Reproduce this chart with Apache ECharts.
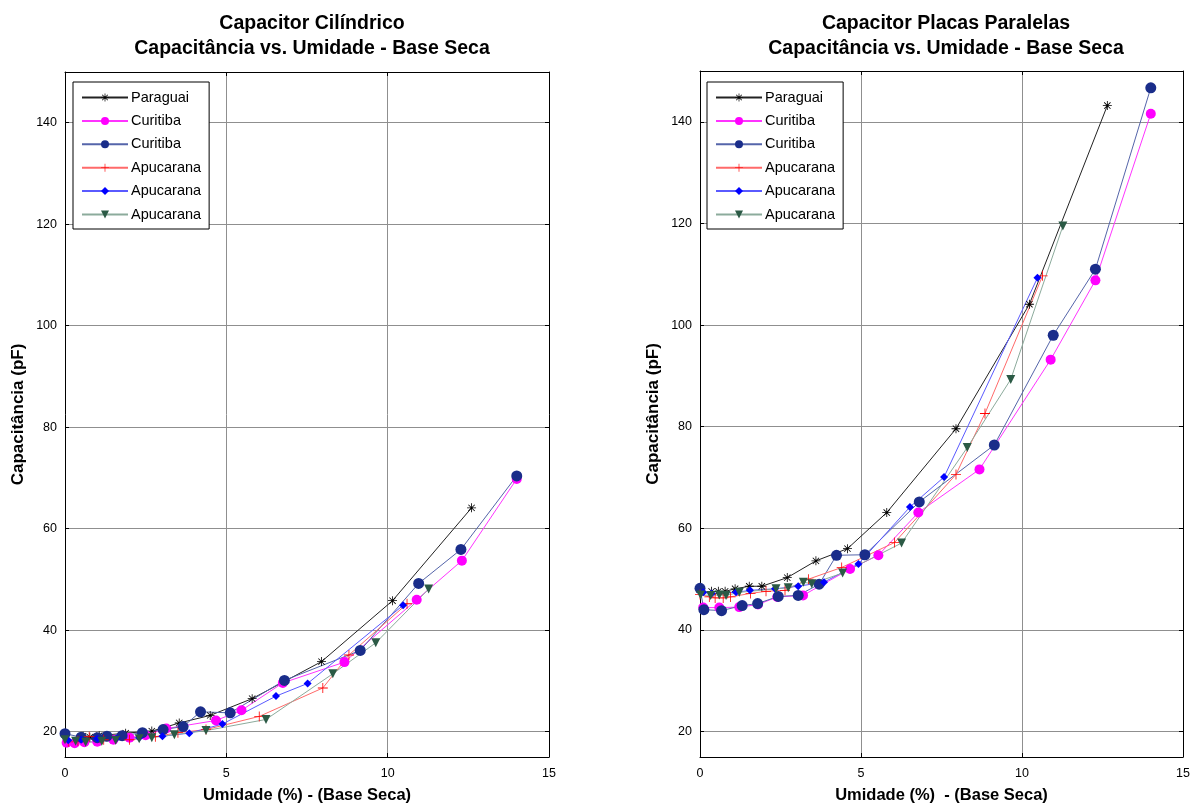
<!DOCTYPE html>
<html><head><meta charset="utf-8">
<script src="https://cdn.jsdelivr.net/npm/echarts@6/dist/echarts.min.js"></script>
<style>html,body{margin:0;padding:0;background:#fff}#c{width:1195px;height:804px}</style>
</head><body><div id="c"></div>
<script>
// ---- Data: [umidade (%), capacitância (pF)] ----
const seriesNames = ['Paraguai', 'Curitiba', 'Curitiba\u200b', 'Apucarana', 'Apucarana\u200b', 'Apucarana\u200b\u200b'];

// Capacitor Cilíndrico
const cylParaguai = [[0.56,19.1],[0.77,18.9],[1.06,19.2],[1.88,19.7],[2.69,20.1],[3.54,21.7],[4.5,23.2],[5.8,26.5],[7.95,33.8],[10.15,45.8],[12.6,64.1]];
const cylCuritibaM = [[0.05,17.8],[0.3,17.7],[0.6,17.9],[1.0,18.0],[1.5,18.4],[2.0,18.8],[2.5,19.3],[3.14,20.6],[4.68,22.2],[5.47,24.2],[6.75,29.6],[8.66,33.7],[10.9,46],[12.3,53.7],[14.0,69.8]];
const cylCuritibaN = [[0.0,19.6],[0.5,18.9],[1.0,18.8],[1.3,19.1],[1.77,19.2],[2.4,19.8],[3.04,20.4],[3.66,21],[4.2,23.9],[5.12,23.7],[6.8,30.1],[9.15,36],[10.96,49.2],[12.27,55.9],[14.0,70.4]];
const cylApucaranaR = [[0.1,18.0],[0.4,18.2],[0.75,19.0],[1.2,18.4],[2.0,18.4],[2.8,19.0],[3.5,19.8],[4.37,20.4],[6.02,23.0],[7.99,28.6],[8.8,35.1],[10.6,45.2]];
const cylApucaranaB = [[0.1,18.3],[0.5,18.4],[1.0,18.6],[1.6,18.7],[2.3,18.8],[3.02,19.1],[3.85,19.7],[4.88,21.5],[6.54,27],[7.52,29.5],[10.48,44.9]];
const cylApucaranaG = [[0,18.4],[0.33,18.1],[0.64,17.9],[1.14,18.1],[1.57,18.3],[2.3,18.6],[2.69,18.8],[3.39,19.4],[4.37,20.2],[6.23,22.4],[8.3,31.4],[9.63,37.5],[11.27,48.1]];

// Capacitor Placas Paralelas
const ppParaguai = [[0.36,47.6],[0.57,47.6],[0.78,47.6],[1.09,48.1],[1.53,48.6],[1.92,48.6],[2.71,50.3],[3.6,53.6],[4.58,56],[5.8,63.1],[7.95,79.6],[10.23,104.1],[12.65,143.2]];
const ppCuritibaM = [[0.1,44.4],[0.6,44.4],[1.22,44.5],[1.8,45.0],[2.4,46.5],[3.2,46.8],[4.66,52],[5.54,54.7],[6.78,63.1],[8.68,71.6],[10.89,93.2],[12.28,108.8],[14,141.6]];
const ppCuritibaN = [[0,48.2],[0.12,44],[0.67,43.8],[1.31,44.8],[1.79,45.2],[2.43,46.6],[3.05,46.8],[3.7,49],[4.24,54.7],[5.12,54.8],[6.81,65.2],[9.14,76.4],[10.97,98],[12.28,111],[14,146.7]];
const ppApucaranaR = [[0,47],[0.29,46.5],[0.47,46.3],[0.72,46.3],[0.95,46.5],[1.57,47.2],[2.05,47.6],[2.64,47.8],[3.37,50],[4.4,52.3],[6.04,57.2],[7.95,70.6],[8.85,82.6],[10.64,109.7]];
const ppApucaranaB = [[0.1,47.4],[0.36,47.2],[1.12,47.4],[1.55,47.8],[2.33,48.1],[3.05,48.6],[3.85,49.4],[4.92,53],[6.52,64.2],[7.58,70.1],[10.48,109.3]];
const ppApucaranaG = [[0.02,46.9],[0.33,46.8],[0.6,46.9],[0.81,46.8],[1.22,47.4],[2.36,48.1],[2.74,48.3],[3.21,49.4],[3.47,49.1],[4.43,51.2],[6.26,57.1],[8.3,75.9],[9.65,89.3],[11.27,119.5]];

const xTicks = [0, 5, 10, 15];
const yTicks = [20, 40, 60, 80, 100, 120, 140];

// ---- Styles ----
const starPath = 'path://M-0.9,-10L0.9,-10L0.9,10L-0.9,10Z M-10,-0.9L10,-0.9L10,0.9L-10,0.9Z M-7.7,-6.4L-6.4,-7.7L7.7,6.4L6.4,7.7Z M6.4,-7.7L7.7,-6.4L-6.4,7.7L-7.7,6.4Z';
const plusPath = 'path://M-0.8,-10L0.8,-10L0.8,10L-0.8,10Z M-10,-0.8L10,-0.8L10,0.8L-10,0.8Z';
const styles = [
  {symbol: starPath, size: 9, marker: '#000000', line: '#222222'},
  {symbol: 'circle', size: 10, marker: '#ff00ff', line: '#ff33ff'},
  {symbol: 'circle', size: 11, marker: '#1a2d8a', line: '#5565aa'},
  {symbol: plusPath, size: 10, marker: '#ff0000', line: '#ff6a6a'},
  {symbol: 'diamond', size: 8, marker: '#0000ff', line: '#5a5aff'},
  {symbol: 'triangle', size: 9, marker: '#2b5a45', line: '#8cab9c', rotate: 180}
];
const cylData = [cylParaguai, cylCuritibaM, cylCuritibaN, cylApucaranaR, cylApucaranaB, cylApucaranaG];
const ppData = [ppParaguai, ppCuritibaM, ppCuritibaN, ppApucaranaR, ppApucaranaB, ppApucaranaG];

const FONT = 'Liberation Sans, Arial, sans-serif';
const grids = [
  {left: 65, top: 72, width: 484, height: 685, outerBoundsMode: 'none', containLabel: false},
  {left: 700, top: 71, width: 483, height: 686, outerBoundsMode: 'none', containLabel: false}
];

function xAxisFor(i, name) {
  return [{
    gridIndex: i, type: 'value', min: 0, max: 15, interval: 5,
    name: name, nameLocation: 'middle', nameGap: 30,
    nameTextStyle: {fontFamily: FONT, fontWeight: 'bold', fontSize: 16.5, color: '#000'},
    axisLine: {onZero: false, lineStyle: {color: '#000', width: 1}},
    axisTick: {inside: true, length: 4, lineStyle: {color: '#000'}},
    axisLabel: {fontFamily: FONT, fontSize: 12.5, color: '#000', margin: 10},
    splitLine: {show: true, lineStyle: {color: '#8f8f8f', width: 1}}
  }, {
    gridIndex: i, type: 'value', min: 0, max: 15, interval: 5, position: 'top',
    axisLine: {onZero: false, lineStyle: {color: '#000', width: 1}},
    axisTick: {inside: true, length: 4, lineStyle: {color: '#000'}},
    axisLabel: {show: false}, splitLine: {show: false}
  }];
}
function yAxisFor(i) {
  return [{
    gridIndex: i, type: 'value', min: 15, max: 150,
    name: 'Capacitância (pF)', nameLocation: 'middle', nameGap: 38,
    nameTextStyle: {fontFamily: FONT, fontWeight: 'bold', fontSize: 17, color: '#000'},
    axisLine: {onZero: false, lineStyle: {color: '#000', width: 1}},
    axisTick: {inside: true, length: 4, customValues: yTicks, lineStyle: {color: '#000'}},
    axisLabel: {fontFamily: FONT, fontSize: 12.5, color: '#000', margin: 8, customValues: yTicks},
    splitLine: {show: true, lineStyle: {color: '#8f8f8f', width: 1}}
  }, {
    gridIndex: i, type: 'value', min: 15, max: 150, position: 'right',
    axisLine: {onZero: false, lineStyle: {color: '#000', width: 1}},
    axisTick: {inside: true, length: 4, customValues: yTicks, lineStyle: {color: '#000'}},
    axisLabel: {show: false}, splitLine: {show: false}
  }];
}

const series = [];
[cylData, ppData].forEach((set, gi) => {
  set.forEach((d, k) => {
    const s = styles[k];
    series.push({
      type: 'line', name: seriesNames[k], data: d,
      xAxisIndex: gi * 2, yAxisIndex: gi * 2,
      symbol: s.symbol, symbolSize: s.size, symbolRotate: s.rotate || 0,
      showAllSymbol: true, animation: false,
      lineStyle: {color: s.line, width: 1},
      itemStyle: {color: s.marker, borderWidth: 0},
      emphasis: {disabled: true}
    });
  });
});

const legendCommon = {
  orient: 'vertical', itemWidth: 46, itemHeight: 10, itemGap: 8.4,
  data: seriesNames, formatter: n => n.replace(/\u200b/g, ''),
  textStyle: {fontFamily: FONT, fontSize: 14.5, color: '#000', padding: [0, 0, 0, -2]},
  borderColor: '#000', borderWidth: 1, backgroundColor: '#fff',
  padding: [8, 8, 7, 8], selectedMode: false
};

const option = {
  backgroundColor: '#fff',
  animation: false,
  title: [
    {text: 'Capacitor Cilíndrico\nCapacitância vs. Umidade - Base Seca', left: 307, top: 6, textAlign: 'center',
     textStyle: {fontFamily: FONT, fontWeight: 'bold', fontSize: 19.5, lineHeight: 25, color: '#000'}},
    {text: 'Capacitor Placas Paralelas\nCapacitância vs. Umidade - Base Seca', left: 941, top: 6, textAlign: 'center',
     textStyle: {fontFamily: FONT, fontWeight: 'bold', fontSize: 19.5, lineHeight: 25, color: '#000'}}
  ],
  grid: grids,
  xAxis: [...xAxisFor(0, 'Umidade (%) - (Base Seca)'), ...xAxisFor(1, 'Umidade (%)  - (Base Seca)')],
  yAxis: [...yAxisFor(0), ...yAxisFor(1)],
  legend: [
    Object.assign({left: 73, top: 82}, legendCommon),
    Object.assign({left: 707, top: 82}, legendCommon)
  ],
  series: series
};
const chart = echarts.init(document.getElementById('c'), null, {renderer: 'canvas'});
chart.setOption(option);
</script>
</body></html>
